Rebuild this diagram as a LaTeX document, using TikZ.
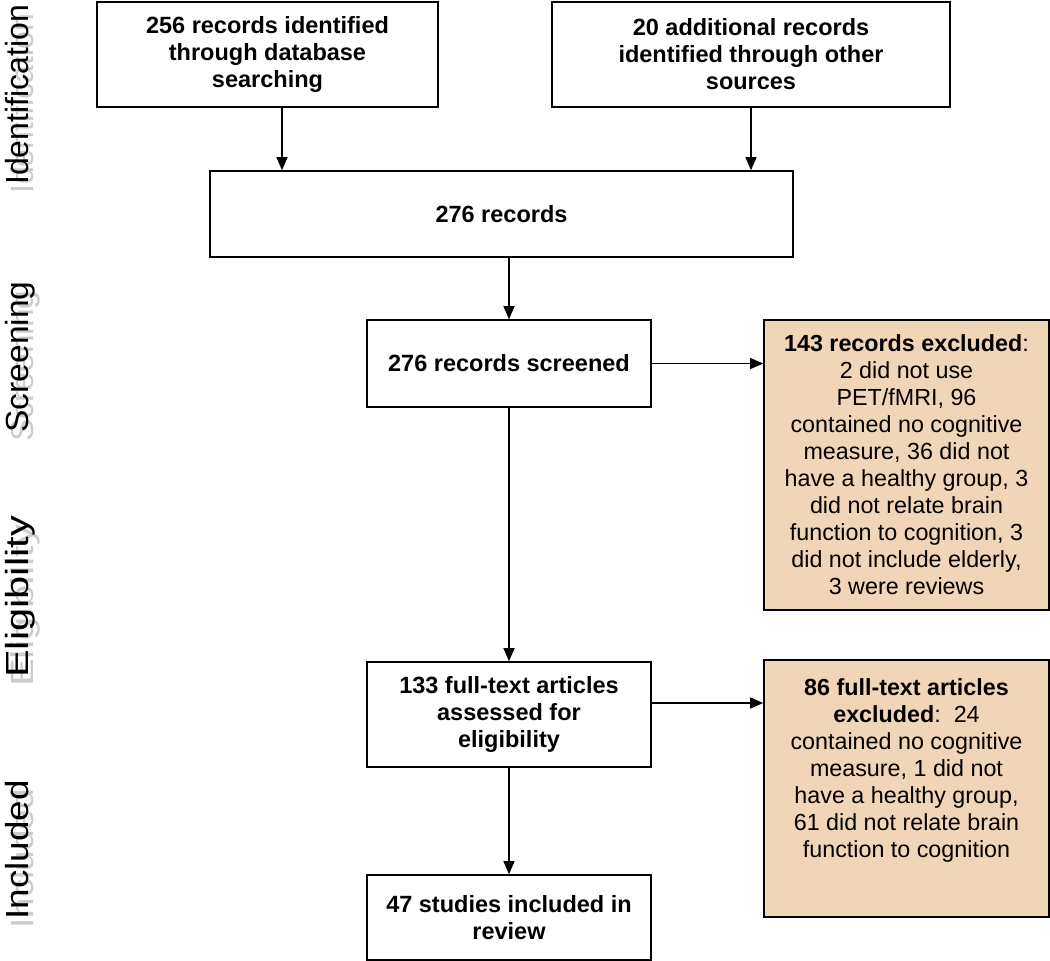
\documentclass[tikz,border=0pt]{standalone}
\usepackage{fontspec}
\setmainfont{Liberation Sans}
\usetikzlibrary{arrows.meta}
\definecolor{peach}{RGB}{241,213,183}
\tikzset{
  box/.style={draw, line width=1.6pt, align=center, inner sep=0pt,
    font=\bfseries\fontsize{23.5}{27}\selectfont},
  excl/.style={box, fill=peach, font=\fontsize{23.3}{27}\selectfont},
  side/.style={rotate=90, anchor=base, font=\fontsize{32}{32}\selectfont},
  arr/.style={line width=1.2pt, -{Triangle[length=13pt,width=11pt]}}
}
\begin{document}
\begin{tikzpicture}[x=1pt, y=-1pt]
  \useasboundingbox (0,0) rectangle (1050,961);
  % phase labels with their shadow
  \foreach \y/\s/\t in {95/1/Identification, 357/1.05/Screening, 597/1.3/Eligibility, 850/1.15/Included} {
    \node[side, xscale=\s, gray!40] (shade\y) at (33,\y+9) {\t};
    \node[side, xscale=\s] (phase\y) at (28,\y) {\t};
  }
  % boxes
  \node[box, minimum width=341pt, minimum height=105pt] (dbase) at (267.5,54.5)
    {256 records identified\\through database\\searching};
  \node[box, minimum width=398pt, minimum height=105pt] (other) at (751,54.5)
    {20 additional records\\identified through other\\sources};
  \node[box, minimum width=583pt, minimum height=86pt] (records) at (501.5,214)
    {276 records};
  \node[box, minimum width=284pt, minimum height=87pt] (screened) at (509,363.5)
    {276 records screened};
  \node[excl, minimum width=285pt, minimum height=290pt] (exscreen) at (906.5,465)
    {\textbf{143 records excluded}:\\2 did not use\\PET/fMRI, 96\\contained no cognitive\\measure, 36 did not\\have a healthy group, 3\\did not relate brain\\function to cognition, 3\\did not include elderly,\\3 were reviews};
  \node[box, minimum width=284pt, minimum height=105pt] (fulltext) at (509,714.5)
    {133 full-text articles\\assessed for\\eligibility};
  \node[excl, minimum width=285pt, minimum height=257pt] (exfull) at (906.5,788.5)
    {\textbf{86 full-text articles}\\\textbf{excluded}:~~24\\contained no cognitive\\measure, 1 did not\\have a healthy group,\\61 did not relate brain\\function to cognition\\[13.5pt]\mbox{}};
  \node[box, minimum width=284pt, minimum height=85pt] (included) at (509,917.5)
    {47 studies included in\\review};
  % arrows
  \draw[arr] ([xshift=14.5pt]dbase.south) -- ([xshift=14.5pt]dbase.south |- records.north);
  \draw[arr] (other.south) -- (other.south |- records.north);
  \draw[arr] (records.south -| screened.north) -- (screened.north);
  \draw[arr] (screened.east) -- (screened.east -| exscreen.west);
  \draw[arr] (screened.south) -- (fulltext.north);
  \draw[arr] ([yshift=11.5pt]fulltext.east) -- ([yshift=11.5pt]fulltext.east -| exfull.west);
  \draw[arr] (fulltext.south) -- (included.north);
\end{tikzpicture}
\end{document}
